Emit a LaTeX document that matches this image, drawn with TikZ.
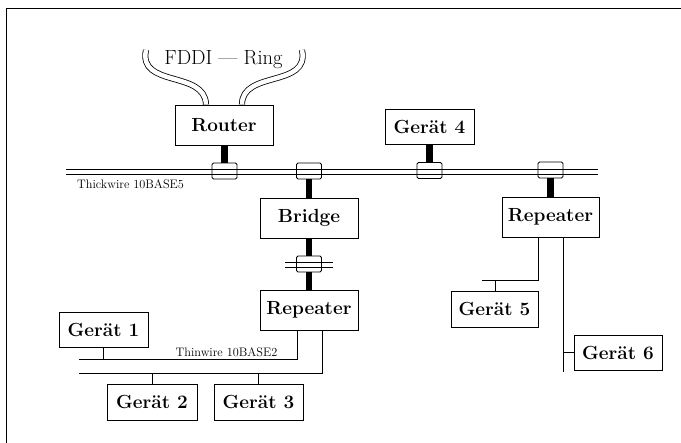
\documentclass[tikz,border=0pt]{standalone}
\begin{document}
\begin{tikzpicture}[x=1pt,y=-1pt,
  dev/.style={draw,line width=0.9pt,inner sep=0pt,font=\fontsize{19}{22}\selectfont\bfseries},
  tap/.style={draw,line width=0.8pt,rounded corners=1.5pt,minimum width=25pt,minimum height=16pt,inner sep=0pt},
  thick/.style={line width=6.5pt},
  wire/.style={line width=0.9pt},
  ring/.style={line width=0.8pt,double,double distance=4.5pt},
  small/.style={font=\fontsize{12.3}{14}\selectfont,inner sep=0pt}]
\useasboundingbox (0,0) rectangle (681,443);
% frame
\draw[line width=1pt] (6,443) -- (6,9) -- (681,9);
% FDDI
\node[font=\fontsize{20.5}{24}\selectfont,inner sep=0pt,anchor=base] (fddi) at (223.5,65) {FDDI --- Ring};
% boxes
\node[dev,minimum width=98pt,minimum height=40pt] (router) at (224,125) {Router};
\node[dev,minimum width=89pt,minimum height=35pt] (g4) at (429.5,126.5) {Gerät 4};
\node[dev,minimum width=98pt,minimum height=40pt] (bridge) at (309,218) {Bridge};
\node[dev,minimum width=98pt,minimum height=40pt] (rep1) at (309,310) {Repeater};
\node[dev,minimum width=97pt,minimum height=40pt] (rep2) at (550.5,217) {Repeater};
\node[dev,minimum width=89pt,minimum height=35pt] (g1) at (103.5,329.5) {Gerät 1};
\node[dev,minimum width=90pt,minimum height=36pt] (g2) at (152,402) {Gerät 2};
\node[dev,minimum width=89pt,minimum height=36pt] (g3) at (258.5,402) {Gerät 3};
\node[dev,minimum width=87pt,minimum height=36pt] (g5) at (494.5,309) {Gerät 5};
\node[dev,minimum width=88pt,minimum height=35pt] (g6) at (618,352.5) {Gerät 6};
% FDDI ring curves
\coordinate (r1) at (146,50);
\coordinate (r2) at (302,50);
\draw[ring] (r1) .. controls (138,88) and (205,70) .. (router.north -| 206,0);
\draw[ring] (r2) .. controls (310,88) and (242,70) .. (router.north -| 242,0);
% thickwire
\coordinate (twl) at (66,169);
\coordinate (twr) at (598,169);
\coordinate (twl2) at (66,174);
\coordinate (twr2) at (598,174);
\draw[wire] (twl) -- (twr);
\draw[wire] (twl2) -- (twr2);
\node[tap] (t1) at (224.5,171) {};
\node[tap] (t2) at (309,171) {};
\node[tap] (t3) at (429.5,170.5) {};
\node[tap] (t4) at (550.5,170) {};
\node[tap] (t5) at (309,264) {};
\coordinate (s5l) at (285,262); \coordinate (s5r) at (333,262);
\coordinate (s5l2) at (285,267); \coordinate (s5r2) at (333,267);
\draw[wire] (s5l) -- (s5r);
\draw[wire] (s5l2) -- (s5r2);
\node[small,anchor=west] (thick) at (77,184) {Thickwire 10BASE5};
% thick connectors
\draw[thick] (router.south -| t1) -- (t1.north);
\draw[thick] (g4.south -| t3) -- (t3.north);
\draw[thick] (t2.south) -- (bridge.north);
\draw[thick] (t4.south) -- (rep2.north);
\draw[thick] (bridge.south) -- (t5.north);
\draw[thick] (t5.south) -- (rep1.north);
% thinwire
\coordinate (a1) at (79,359);
\coordinate (a2) at (79,373);
\draw[wire] (a1) -- (297,359) -- (rep1.south -| 297,0);
\draw[wire] (a2) -- (322,373) -- (rep1.south -| 322,0);
\draw[wire] (g1.south) -- (g1.south |- a1);
\draw[wire] (g2.north) -- (g2.north |- a2);
\draw[wire] (g3.north) -- (g3.north |- a2);
\node[small] (thin) at (226.5,352) {Thinwire 10BASE2};
% right repeater
\coordinate (b1) at (482,280);
\coordinate (b2) at (563,372);
\draw[wire] (rep2.south -| 538,0) -- (538,280) -- (b1);
\draw[wire] (g5.north -| 495,0) -- (495,280);
\draw[wire] (rep2.south -| 563,0) -- (b2);
\draw[wire] (g6.west) -- (g6.west -| b2);
\end{tikzpicture}
\end{document}
